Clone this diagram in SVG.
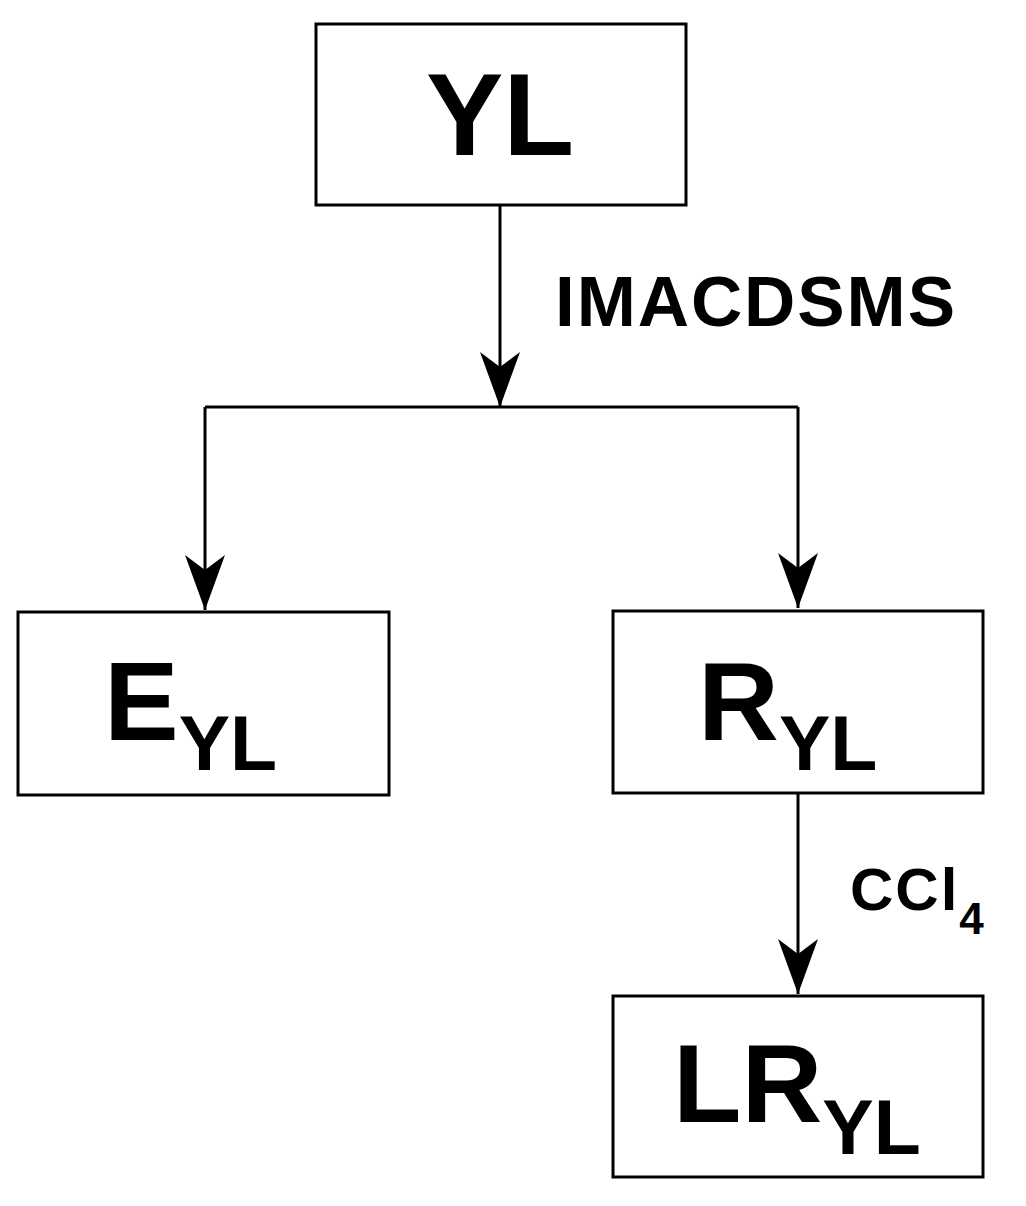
<svg xmlns="http://www.w3.org/2000/svg" width="1026" height="1206" viewBox="0 0 1026 1206">
<style>
.box{fill:#fff;stroke:#000;stroke-width:3}
.ln{fill:none;stroke:#000;stroke-width:3}
text{font-family:"Liberation Sans",Arial,sans-serif;font-weight:bold;fill:#000}
</style>
<defs>
<path id="ah" d="M0,0 L-20,-55 L0,-40 L20,-55 Z" fill="#000"/>
</defs>
<rect width="1026" height="1206" fill="#fff"/>
<g id="connectors">
<path class="ln" d="M500,205 V407 M205,407 H798 M205,407 V610 M798,407 V608 M798,793 V994"/>
<use href="#ah" x="500" y="407"/>
<use href="#ah" x="205" y="610"/>
<use href="#ah" x="798" y="608"/>
<use href="#ah" x="798" y="994"/>
<text x="555" y="326" font-size="71" textLength="400" lengthAdjust="spacing">IMACDSMS</text>
<text x="850" y="910" font-size="60" letter-spacing="2">CCl<tspan font-size="44" dy="24">4</tspan></text>
</g>
<g id="yl">
<rect class="box" x="316" y="24" width="370" height="181"/>
<text x="500" y="155" font-size="116" text-anchor="middle">YL</text>
</g>
<g id="eyl">
<rect class="box" x="18" y="612" width="371" height="183"/>
<text x="104" y="740" font-size="112">E<tspan font-size="77" dy="30">YL</tspan></text>
</g>
<g id="ryl">
<rect class="box" x="613" y="611" width="370" height="182"/>
<text x="698" y="740" font-size="112">R<tspan font-size="77" dy="30">YL</tspan></text>
</g>
<g id="lryl">
<rect class="box" x="613" y="996" width="370" height="181"/>
<text x="673" y="1122" font-size="112">LR<tspan font-size="77" dy="32">YL</tspan></text>
</g>
</svg>
